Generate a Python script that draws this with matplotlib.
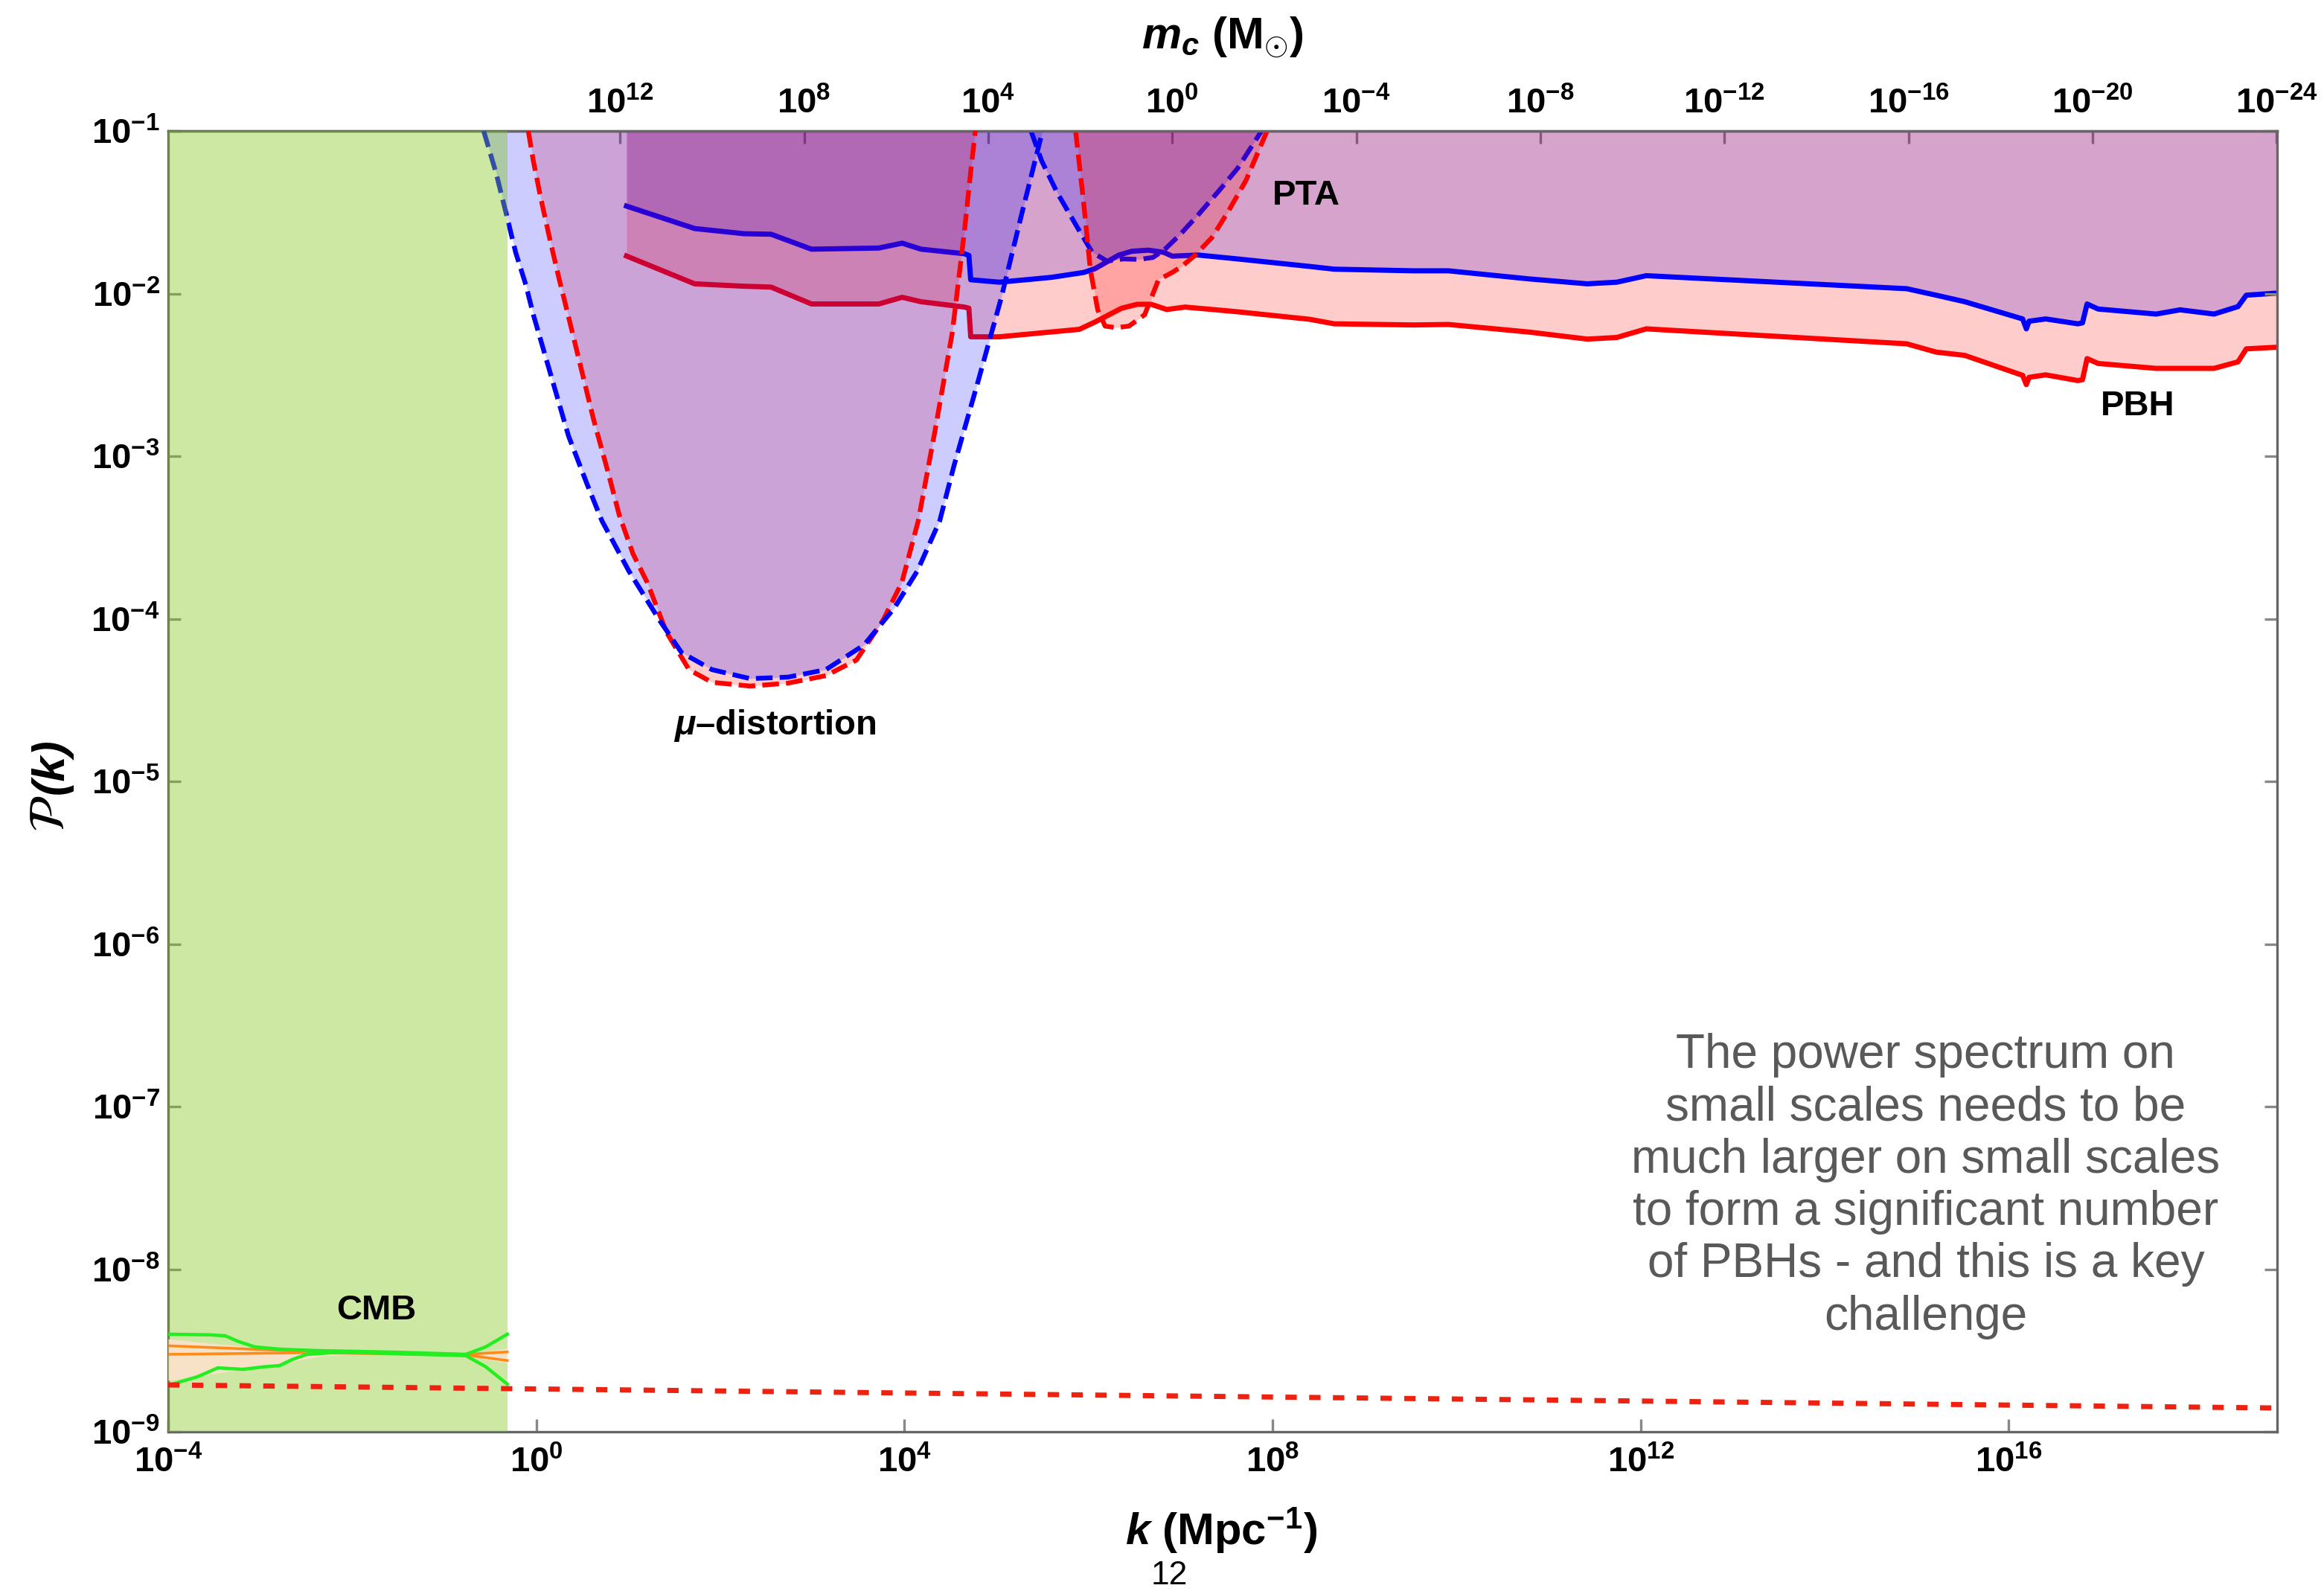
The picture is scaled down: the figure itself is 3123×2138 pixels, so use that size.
import numpy as np
import matplotlib
matplotlib.use("Agg")
import matplotlib.pyplot as plt
from matplotlib.ticker import NullLocator

plt.rcParams['font.family'] = ['Liberation Sans', 'DejaVu Sans']
plt.rcParams['mathtext.fontset'] = 'custom'
plt.rcParams['mathtext.rm'] = 'Liberation Sans:bold'
plt.rcParams['mathtext.it'] = 'Liberation Sans:italic:bold'
plt.rcParams['mathtext.bf'] = 'Liberation Sans:bold'

# ---------------- data (log10 k [Mpc^-1], log10 P) ----------------
pbh_blue = [(0.98, -1.462), (1.72, -1.60), (2.26, -1.632), (2.55, -1.635), (2.99, -1.727),
            (3.72, -1.72), (3.975, -1.69), (4.18, -1.727), (4.65, -1.755), (4.70, -1.765),
            (4.72, -1.915), (5.03, -1.93), (5.32, -1.915), (5.60, -1.90), (5.95, -1.87),
            (6.07, -1.847), (6.33, -1.763), (6.47, -1.74), (6.65, -1.733), (6.82, -1.747),
            (6.91, -1.77), (7.19, -1.763), (7.62, -1.787), (8.40, -1.833), (8.67, -1.85),
            (9.53, -1.86), (9.91, -1.86), (10.79, -1.91), (11.42, -1.94), (11.74, -1.93),
            (12.06, -1.89), (14.89, -1.97), (15.21, -2.01), (15.52, -2.05), (16.15, -2.156),
            (16.19, -2.217), (16.22, -2.17), (16.40, -2.156), (16.75, -2.186), (16.80, -2.18),
            (16.85, -2.064), (16.97, -2.095), (17.60, -2.126), (17.86, -2.10), (18.23, -2.126),
            (18.49, -2.08), (18.58, -2.01), (18.915, -1.997)]

pbh_red = [(0.98, -1.769), (1.72, -1.94), (2.26, -1.955), (2.55, -1.96), (2.99, -2.064),
           (3.72, -2.064), (3.975, -2.023), (4.18, -2.05), (4.65, -2.083), (4.70, -2.09),
           (4.72, -2.266), (5.03, -2.266), (5.90, -2.22), (6.07, -2.175), (6.36, -2.09),
           (6.53, -2.066), (6.68, -2.066), (6.85, -2.098), (7.05, -2.083), (7.62, -2.112),
           (8.40, -2.158), (8.67, -2.186), (9.53, -2.193), (9.91, -2.19), (10.79, -2.237),
           (11.42, -2.28), (11.74, -2.27), (12.06, -2.217), (14.89, -2.309), (15.21, -2.36),
           (15.52, -2.38), (16.15, -2.503), (16.19, -2.56), (16.22, -2.515), (16.40, -2.50),
           (16.75, -2.535), (16.80, -2.53), (16.85, -2.40), (16.97, -2.43), (17.60, -2.46),
           (18.23, -2.46), (18.49, -2.42), (18.58, -2.34), (18.915, -2.33)]

mu_blue = [(-0.572, -1.0), (-0.437, -1.259), (-0.316, -1.534), (-0.225, -1.746), (-0.114, -1.946),
           (-0.033, -2.129), (0.35, -2.876), (0.55, -3.17), (0.713, -3.398), (1.004, -3.705),
           (1.336, -4.007), (1.578, -4.208), (1.909, -4.313), (2.322, -4.368), (2.734, -4.359),
           (3.146, -4.313), (3.559, -4.162), (3.890, -3.934), (4.141, -3.705), (4.383, -3.398),
           (4.54, -3.055), (4.80, -2.54), (5.05, -2.03), (5.27, -1.52), (5.50, -1.0)]

mu_red = [(-0.087, -1.0), (-0.033, -1.183), (0.048, -1.412), (0.155, -1.686), (0.25, -1.915),
          (0.344, -2.129), (0.62, -2.77), (0.78, -3.10), (0.90, -3.36), (1.05, -3.60),
          (1.206, -3.778), (1.416, -4.085), (1.659, -4.313), (1.909, -4.391), (2.322, -4.414),
          (2.734, -4.396), (3.146, -4.350), (3.478, -4.254), (3.769, -4.007), (3.971, -3.778),
          (4.15, -3.398), (4.33, -2.85), (4.52, -2.24), (4.65, -1.625), (4.72, -1.25),
          (4.77, -1.0)]

pta_red = [(5.86, -1.0), (5.95, -1.458), (6.02, -1.854), (6.10, -2.10), (6.18, -2.20),
           (6.30, -2.21), (6.44, -2.20), (6.61, -2.13), (6.76, -1.915), (6.91, -1.87),
           (7.02, -1.83), (7.16, -1.763), (7.34, -1.656), (7.51, -1.503), (7.71, -1.305),
           (7.94, -1.0)]

pta_blue = [(5.375, -1.0), (5.49, -1.183), (5.66, -1.38), (5.895, -1.609), (6.04, -1.746),
            (6.2, -1.80), (6.38, -1.787), (6.55, -1.79), (6.70, -1.778), (6.82, -1.733),
            (6.99, -1.64), (7.19, -1.517), (7.42, -1.366), (7.62, -1.23), (7.88, -1.0)]

cmb_green_upper = [(-4.0, -8.400), (-3.55, -8.404), (-3.38, -8.410), (-3.25, -8.442), (-3.06, -8.478),
                   (-2.79, -8.492), (-2.38, -8.501), (-1.575, -8.510), (-0.766, -8.524),
                   (-0.55, -8.478), (-0.315, -8.400)]
cmb_green_lower = [(-4.0, -8.715), (-3.68, -8.661), (-3.46, -8.607), (-3.19, -8.616), (-2.95, -8.600),
                   (-2.79, -8.593), (-2.65, -8.555), (-2.49, -8.524), (-2.12, -8.510),
                   (-0.766, -8.532), (-0.55, -8.600), (-0.315, -8.707)]
cmb_band_logk = [-4.0, -3.0, -2.3, -1.5, -0.77, -0.315]
cmb_band_hi = [-8.429, -8.486, -8.506, -8.508, -8.524, -8.486]
cmb_band_lo = [-8.684, -8.600, -8.532, -8.514, -8.532, -8.577]
cmb_orange_hi = [(-4.0, -8.471), (-2.5, -8.506), (-0.77, -8.524), (-0.315, -8.509)]
cmb_orange_lo = [(-4.0, -8.524), (-2.5, -8.514), (-0.77, -8.527), (-0.315, -8.562)]
cmb_k_range = [-4.0, -0.315]

standard_P = [(-4.0, -8.712), (18.915, -8.854)]

k_tick_exps = [-4, 0, 4, 8, 12, 16]
m_tick_exps = [12, 8, 4, 0, -4, -8, -12, -16, -20, -24]
y_tick_exps = [-9, -8, -7, -6, -5, -4, -3, -2, -1]
K0_LOG = 6.91  # log10 k where m_c = 1 Msun (m_c ~ k^-2)

note = ("The power spectrum on\nsmall scales needs to be\nmuch larger on small scales\n"
        "to form a significant number\nof PBHs - and this is a key\nchallenge")


def xy(pairs):
    a = np.array(pairs, dtype=float)
    return 10.0 ** a[:, 0], 10.0 ** a[:, 1]


# ---------------- figure ----------------
fig = plt.figure(figsize=(3123 / 200, 2138 / 200), dpi=200)
ax = fig.add_axes([0.07237, 0.10009, 0.90746, 0.81759])
ax.set_xscale('log')
ax.set_yscale('log')
ax.set_xlim(10.0 ** -4, 10.0 ** 18.915)
ax.set_ylim(1e-9, 1e-1)
PTOP = 1e-1

RED = (1, 0, 0)
BLUE = (0, 0, 1)
A = 0.2
DASH = (3.5, 1.5)

# PBH
kb, pb = xy(pbh_blue)
kr, pr = xy(pbh_red)
ax.fill_between(kb, pb, PTOP, color=BLUE, alpha=A, lw=0, zorder=1)
ax.fill_between(kr, pr, PTOP, color=RED, alpha=A, lw=0, zorder=1.1)
ax.plot(kb, pb, color='#0000ff', lw=2.5, zorder=1.5, solid_joinstyle='round')
ax.plot(kr, pr, color='#ff0000', lw=2.5, zorder=1.5, solid_joinstyle='round')

# mu distortion
kmr, pmr = xy(mu_red)
kmb, pmb = xy(mu_blue)
ax.fill_between(kmr, pmr, PTOP, color=RED, alpha=A, lw=0, zorder=2)
ax.fill_between(kmb, pmb, PTOP, color=BLUE, alpha=A, lw=0, zorder=2.1)

# PTA
kpb, ppb = xy(pta_blue)
kpr, ppr = xy(pta_red)
ax.fill_between(kpb, ppb, PTOP, color=BLUE, alpha=A, lw=0, zorder=2.2)
ax.plot(kpb, ppb, color='#0000ff', lw=2.3, dashes=DASH, zorder=2.3)
ax.fill_between(kpr, ppr, PTOP, color=RED, alpha=A, lw=0, zorder=2.4)
ax.plot(kpr, ppr, color='#ff0000', lw=2.3, dashes=DASH, zorder=2.5)

ax.plot(kmr, pmr, color='#ff0000', lw=2.3, dashes=DASH, zorder=2.6)
ax.plot(kmb, pmb, color='#0000ff', lw=2.3, dashes=DASH, zorder=2.7)

# CMB region
ax.axvspan(10.0 ** cmb_k_range[0], 10.0 ** cmb_k_range[1], color=(0.5, 0.775, 0.1),
           alpha=0.4, lw=0, zorder=3)
bk = 10.0 ** np.array(cmb_band_logk)
ax.fill_between(bk, 10.0 ** np.array(cmb_band_lo), 10.0 ** np.array(cmb_band_hi),
                color='#fde2cc', alpha=0.9, lw=0, zorder=3.1)
for pairs in (cmb_orange_hi, cmb_orange_lo):
    x, y = xy(pairs)
    ax.plot(x, y, color='#ff8c1a', lw=1.3, zorder=3.2)
for pairs in (cmb_green_upper, cmb_green_lower):
    x, y = xy(pairs)
    ax.plot(x, y, color='#22ee22', lw=1.6, zorder=3.3)

x, y = xy(standard_P)
ax.plot(x, y, color='#ee2211', lw=2.5, dashes=(2.2, 2.4), zorder=4)

# ---------------- axes styling ----------------
TICK_FS = 17
ax.set_xticks(10.0 ** np.array(k_tick_exps, dtype=float))
ax.set_xticklabels([r'$10^{%d}$' % e for e in k_tick_exps])
ax.set_yticks(10.0 ** np.array(y_tick_exps, dtype=float))
ax.set_yticklabels([r'$10^{%d}$' % e for e in y_tick_exps])
ax.xaxis.set_minor_locator(NullLocator())
ax.yaxis.set_minor_locator(NullLocator())
ax.tick_params(axis='both', which='major', direction='in', length=6, width=1.2,
               color='#888888', labelcolor='black', labelsize=TICK_FS)
ax.tick_params(axis='x', top=False, pad=7)
ax.tick_params(axis='y', left=True, right=True, pad=4)
for s in ax.spines.values():
    s.set_color('#666666')
    s.set_linewidth(1.2)


def k2m(k):
    k = np.asarray(k, dtype=float)
    with np.errstate(divide='ignore', invalid='ignore', over='ignore'):
        return 10.0 ** (2 * K0_LOG) / k ** 2


def m2k(m):
    m = np.asarray(m, dtype=float)
    with np.errstate(divide='ignore', invalid='ignore', over='ignore'):
        return 10.0 ** K0_LOG / np.sqrt(m)


sec = ax.secondary_xaxis('top', functions=(k2m, m2k))
sec.set_xticks(10.0 ** np.array(m_tick_exps, dtype=float))
sec.set_xticklabels([r'$10^{%d}$' % e for e in m_tick_exps])
sec.xaxis.set_minor_locator(NullLocator())
sec.tick_params(axis='x', direction='in', length=6, width=1.2, color='#888888',
                labelcolor='black', labelsize=TICK_FS, pad=5)
sec.spines['top'].set_color('#555555')
sec.spines['top'].set_linewidth(1.2)

# ---------------- labels ----------------
fig.text(0.5255, 0.0379, r'$k$ (Mpc$^{-1}$)', fontsize=21.5, fontweight='bold',
         ha='center', va='center')
fig.text(0.526, 0.9766, r'$m_c$ (M$_{\odot}$)', fontsize=21.5, fontweight='bold',
         ha='center', va='center')
fig.text(0.0221, 0.4888, r'$\mathcal{P}$', fontsize=24, rotation=90,
         ha='center', va='center', math_fontfamily='stix')
fig.text(0.0221, 0.5183, '(k)', fontsize=22, rotation=90, style='italic',
         fontweight='bold', ha='center', va='center')
fig.text(0.503, 0.0094, '12', fontsize=16, ha='center', va='center')

ax.text(0.5395, 0.950, 'PTA', transform=ax.transAxes, fontsize=17, fontweight='bold',
        ha='center', va='center', zorder=6)
ax.text(0.934, 0.7883, 'PBH', transform=ax.transAxes, fontsize=17, fontweight='bold',
        ha='center', va='center', zorder=6)
ax.text(0.2876, 0.543, r'$\mu$–distortion', transform=ax.transAxes, fontsize=17,
        fontweight='bold', ha='center', va='center', zorder=6)
ax.text(0.0988, 0.0933, 'CMB', transform=ax.transAxes, fontsize=17, fontweight='bold',
        ha='center', va='center', zorder=6)
ax.text(0.8334, 0.1888, note, transform=ax.transAxes, fontsize=23, color='#595959',
        ha='center', va='center', linespacing=1.22, zorder=6)

fig.savefig('out.png', dpi=200)
